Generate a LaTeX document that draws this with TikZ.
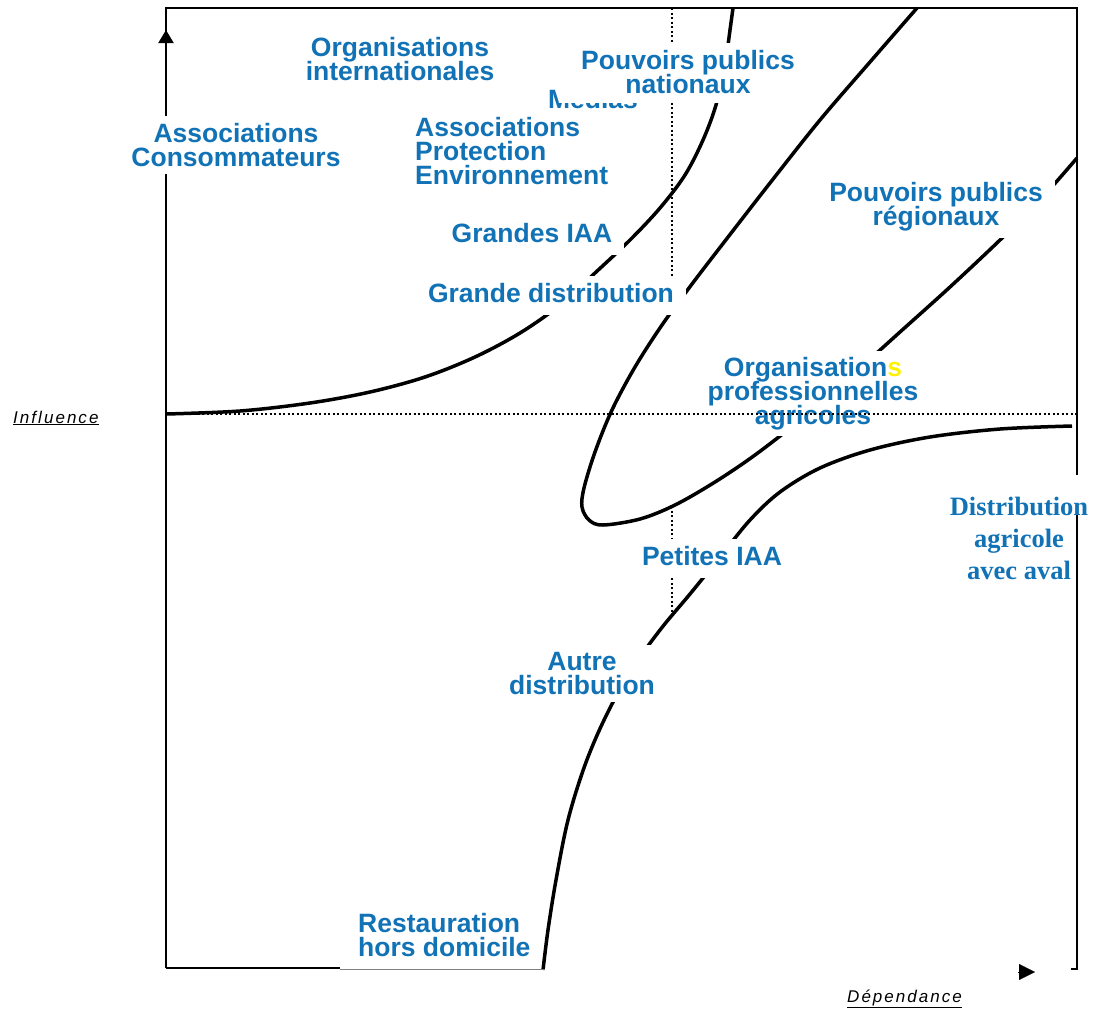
\documentclass[tikz,border=0pt]{standalone}
\usepackage{fontspec}
\setmainfont{Liberation Sans}
\newfontfamily\timesfont{Liberation Serif}
\newfontfamily\axisfont[LetterSpace=12]{Liberation Sans}
\usetikzlibrary{arrows.meta}
\definecolor{actblue}{RGB}{17,114,182}

\begin{document}
\begin{tikzpicture}[x=1pt, y=-1pt,
	lbl/.style={fill=white, text=actblue, align=center, inner xsep=12pt, inner ysep=7pt,
		font={\fontsize{26.5}{24}\selectfont\bfseries\lineskiplimit=-20pt}},
	curve/.style={line width=3.5pt},
	frame/.style={line width=2.5pt},
	dotline/.style={line width=2.3pt, dash pattern=on 2.2pt off 2.3pt},
	axislbl/.style={font={\axisfont\itshape\fontsize{17}{20}\selectfont}}]
	\useasboundingbox (0,0) rectangle (1093,1010);
	% cadre et axes
	\draw[frame] (166,968) -- (166,8) -- (1077,8) -- (1077,475);
	\draw[frame] (1077,513) -- (1077,969) -- (1071,969);
	\draw[frame] (166,968) -- (340,968);
	\draw[-{Triangle[width=15pt,length=13pt]}, line width=2pt] (166,60) -- (166,30);
	\draw[-{Triangle[width=16pt,length=16pt]}, line width=0.1pt] (1018,972) -- (1035,972);
	\draw[dotline] (672,8) -- (672,310);
	\draw[dotline] (672,506) -- (672,616);
	% courbes
	\draw[curve] plot[smooth, tension=0.55] coordinates {(166,414) (240,411) (310,403) (370,392) (425,377) (475,357) (520,333) (560,305) (595,273) (630,240) (660,208) (685,175) (703,140) (716,105) (725,65) (730,30) (733,8)};
	\draw[curve] plot[smooth, tension=0.55] coordinates {(917,8) (870,62) (820,120) (770,183) (725,241) (692,284) (662,325) (635,367) (612,410) (595,452) (584,488) (582,507) (589,520) (603,525) (640,519) (675,505) (715,482) (755,455) (800,420) (850,377) (900,332) (950,287) (1000,240) (1040,200) (1077,158)};
	\draw[curve] plot[smooth, tension=0.55] coordinates {(1072,426) (1000,429) (930,437) (870,450) (820,468) (780,492) (750,520) (720,557) (690,594) (660,630) (630,672) (605,718) (585,765) (568,820) (556,880) (548,930) (543,970)};
	% acteurs
	\node[lbl, anchor=north] (orgint) at (400,30) {Organisations\\internationales};
	\node[lbl, anchor=base, text depth=6pt] (medias) at (593,108) {Medias};
	\node[lbl, anchor=north, inner xsep=22pt, text depth=3pt] (ppnat) at (688,43) {Pouvoirs publics\\nationaux};
	\node[lbl, anchor=north west, align=left] (assocenv) at (403,110) {Associations\\Protection\\Environnement};
	\node[lbl, anchor=north] (assoccons) at (236,116) {Associations\\Consommateurs};
	\node[lbl, anchor=base, text depth=6pt] (grandesiaa) at (532,242) {Grandes IAA};
	\node[lbl, anchor=base, text depth=6pt] (grandedist) at (551,302) {Grande distribution};
	\node[lbl, anchor=north] (ppreg) at (936,175) {Pouvoirs publics\\régionaux};
	\node[lbl, anchor=north, inner xsep=5pt, inner ysep=6pt] (orgpro) at (813,351) {Organisation{\color{yellow}s}\\professionnelles\\agricoles};
	\node[lbl, anchor=base, text depth=6pt] (petitesiaa) at (712,565) {Petites IAA};
	\node[lbl, anchor=north] (autredist) at (582,645) {Autre\\distribution};
	\node[lbl, anchor=north west, align=left] (restau) at (346,906) {Restauration\\hors domicile};
	\node[lbl, fill=none, anchor=north, font={\timesfont\fontsize{26.5}{32}\selectfont\bfseries}] (distagri) at (1019,490) {Distribution\\agricole\\avec aval};
	% axes
	\node[axislbl, anchor=base west, inner sep=0pt] (influence) at (13,423) {\underline{Influence}};
	\node[axislbl, anchor=base west, inner sep=0pt] (dependance) at (847,1002) {\underline{Dépendance}};
	\draw[dotline] (166,414) -- (1077,414);
	\draw[gray, line width=1pt] (340,969) -- (545,969);
\end{tikzpicture}
\end{document}
